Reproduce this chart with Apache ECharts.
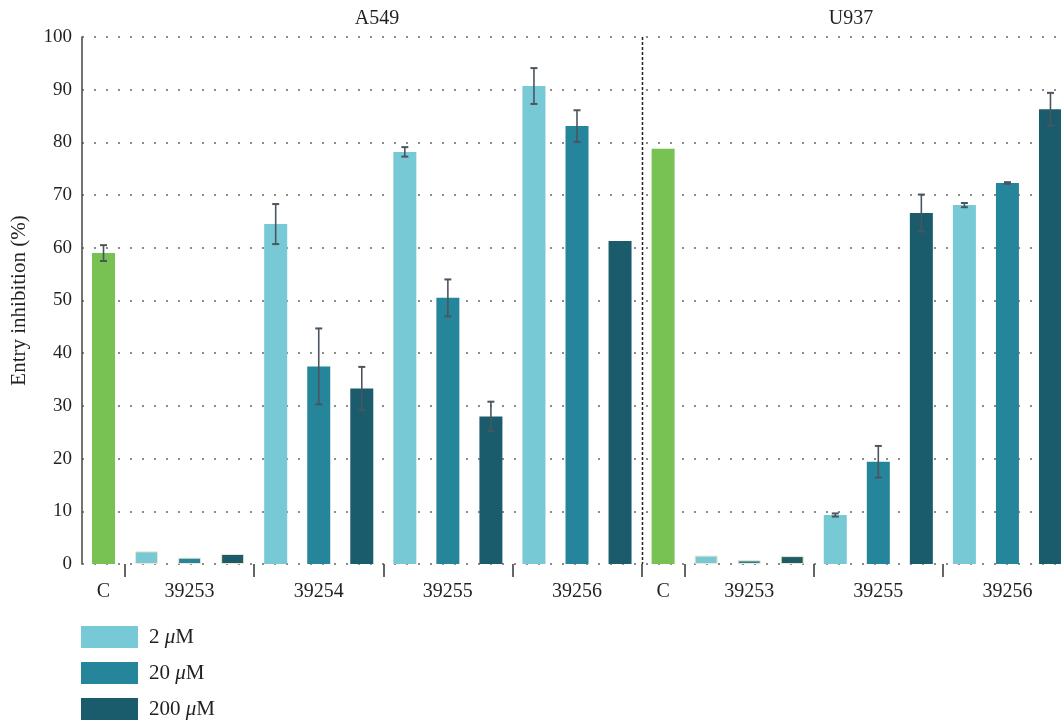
<!DOCTYPE html>
<html>
<head>
<meta charset="utf-8">
<script src="https://cdn.jsdelivr.net/npm/echarts@6/dist/echarts.min.js"></script>
<style>
  html, body { margin: 0; padding: 0; background: #fff; }
  #chart { width: 1061px; height: 726px; }
</style>
</head>
<body>
<div id="chart"></div>
<script>
// Entry inhibition (%) per cell line, compound and concentration
const panels = ['A549', 'U937'];
const concLabels = ['2 μM', '20 μM', '200 μM'];
const controlLabel = 'C';

const a549Compounds = ['39253', '39254', '39255', '39256'];
const a549Control = 59.0;
const a549ControlErr = 1.5;
const a549_2uM = [2.4, 64.5, 78.2, 90.7];
const a549_20uM = [1.2, 37.5, 50.5, 83.1];
const a549_200uM = [1.9, 33.3, 28.0, 61.3];
const a549_2uM_err = [0, 3.8, 0.9, 3.4];
const a549_20uM_err = [0, 7.2, 3.5, 3.0];
const a549_200uM_err = [0, 4.1, 2.8, 0];

const u937Compounds = ['39253', '39255', '39256'];
const u937Control = 78.8;
const u937ControlErr = 0;
const u937_2uM = [1.6, 9.3, 68.1];
const u937_20uM = [0.7, 19.4, 72.3];
const u937_200uM = [1.5, 66.6, 86.3];
const u937_2uM_err = [0, 0.3, 0.4];
const u937_20uM_err = [0, 3.0, 0.15];
const u937_200uM_err = [0, 3.5, 3.1];

const yTicks = [0, 10, 20, 30, 40, 50, 60, 70, 80, 90, 100];

// Build one slot per bar, in drawing order
const slots = [];
function addPanel(panel, control, controlErr, compounds, means, errs) {
  slots.push({ panel, kind: 'control', conc: -1, label: controlLabel, value: control, err: controlErr });
  compounds.forEach((cmp, ci) => {
    for (let k = 0; k < 3; k++) {
      slots.push({ panel, kind: 'cmp', conc: k, label: k === 1 ? cmp : '', value: means[k][ci], err: errs[k][ci] });
    }
  });
}
addPanel(panels[0], a549Control, a549ControlErr, a549Compounds,
  [a549_2uM, a549_20uM, a549_200uM], [a549_2uM_err, a549_20uM_err, a549_200uM_err]);
addPanel(panels[1], u937Control, u937ControlErr, u937Compounds,
  [u937_2uM, u937_20uM, u937_200uM], [u937_2uM_err, u937_20uM_err, u937_200uM_err]);

const catIds = slots.map((s, i) => String(i));
// group boundaries that carry a tick mark
const tickAt = new Set();
slots.forEach((s, i) => {
  if (i > 0 && (s.kind === 'control' || s.conc === 0)) tickAt.add(i);
});
const panelStart = slots.findIndex(s => s.panel === panels[1]);

const colors = ['#77c9d5', '#25859a', '#1a5c6c'];
const green = '#77c252';
const serif = '"Liberation Serif", "DejaVu Serif", serif';
const textColor = '#231f20';

function seriesData(pred) {
  return slots.map(s => {
    if (!pred(s)) return '-';
    const item = { value: s.value };
    if (s.value < 5) item.itemStyle = { borderColor: '#eee6cf', borderWidth: 1 };
    return item;
  });
}

const barSeries = [{
  name: controlLabel,
  type: 'bar',
  barWidth: 23,
  barGap: '-100%',
  itemStyle: { color: green },
  data: seriesData(s => s.kind === 'control'),
  z: 2
}].concat(concLabels.map((name, k) => ({
  name,
  type: 'bar',
  barWidth: 23,
  barGap: '-100%',
  itemStyle: { color: colors[k] },
  data: seriesData(s => s.kind === 'cmp' && s.conc === k),
  z: 2
})));

const errData = [];
slots.forEach((s, i) => { if (s.err > 0) errData.push([i, s.value, s.err]); });

const errorSeries = {
  type: 'custom',
  silent: true,
  z: 5,
  data: errData,
  encode: { x: 0, y: 1 },
  renderItem(params, api) {
    const x = api.value(0), v = api.value(1), e = api.value(2);
    const hi = api.coord([x, v + e]);
    const lo = api.coord([x, v - e]);
    const cap = 3.5;
    const stem = { stroke: '#4a5560', lineWidth: 1.6 };
    const capStyle = { stroke: '#4a5560', lineWidth: 2 };
    return {
      type: 'group',
      children: [
        { type: 'line', shape: { x1: hi[0], y1: hi[1], x2: lo[0], y2: lo[1] }, style: stem },
        { type: 'line', shape: { x1: hi[0] - cap, y1: hi[1], x2: hi[0] + cap, y2: hi[1] }, style: capStyle },
        { type: 'line', shape: { x1: lo[0] - cap, y1: lo[1], x2: lo[0] + cap, y2: lo[1] }, style: capStyle }
      ]
    };
  }
};

const chart = echarts.init(document.getElementById('chart'), null, { renderer: 'canvas' });

chart.setOption({
  animation: false,
  backgroundColor: '#ffffff',
  grid: { left: 82, top: 37, width: 990, height: 527, containLabel: false, outerBoundsMode: 'none' },
  legend: {
    data: concLabels,
    orient: 'vertical',
    left: 81,
    top: 626,
    height: 100,
    padding: 0,
    itemWidth: 57,
    itemHeight: 22,
    itemGap: 14,
    icon: 'rect',
    selectedMode: false,
    formatter: name => {
      const [num, unit] = name.split(' ');
      return '{n|' + num + ' }{i|μ}{n|' + unit.slice(1) + '}';
    },
    textStyle: {
      color: textColor,
      fontFamily: serif,
      fontSize: 21,
      padding: [0, 0, 0, 6],
      rich: {
        n: { fontFamily: serif, fontSize: 21, color: textColor },
        i: { fontFamily: serif, fontSize: 21, color: textColor, fontStyle: 'italic' }
      }
    }
  },
  xAxis: {
    type: 'category',
    data: catIds,
    boundaryGap: true,
    axisLine: { show: false },
    axisTick: {
      show: true,
      length: 13,
      interval: (idx) => tickAt.has(idx),
      lineStyle: { color: '#333', width: 1.5 }
    },
    splitLine: { show: false },
    axisLabel: {
      interval: 0,
      margin: 18,
      fontFamily: serif,
      fontSize: 20,
      color: textColor,
      formatter: (v) => slots[Number(v)].label
    }
  },
  yAxis: {
    type: 'value',
    min: 0,
    max: 100,
    interval: 10,
    name: 'Entry inhibition (%)',
    nameLocation: 'middle',
    nameGap: 52,
    nameRotate: 90,
    nameTextStyle: { fontFamily: serif, fontSize: 21, color: textColor },
    axisLine: { show: true, lineStyle: { color: '#444', width: 1.5 } },
    axisTick: { show: false },
    axisLabel: {
      margin: 10,
      fontFamily: serif,
      fontSize: 19,
      color: textColor,
      formatter: v => (yTicks.indexOf(v) >= 0 ? String(v) : '')
    },
    splitLine: {
      show: true,
      lineStyle: { color: '#8c8c8c', width: 2, type: [2, 10] }
    }
  },
  series: barSeries.concat([errorSeries])
});

// Panel headings above each cell line's bars
const headingX = [377, 851];
const graphics = panels.map((p, i) => ({
  type: 'text',
  x: headingX[i],
  y: 19,
  style: {
    text: p,
    fontFamily: serif,
    fontSize: 20,
    fill: textColor,
    align: 'center',
    verticalAlign: 'middle'
  }
}));
// dotted divider between the two cell lines
const divX = Math.round((chart.convertToPixel({ xAxisIndex: 0 }, panelStart - 1) +
  chart.convertToPixel({ xAxisIndex: 0 }, panelStart)) / 2) + 0.5;
const yTop = chart.convertToPixel({ yAxisIndex: 0 }, 100);
const yBot = chart.convertToPixel({ yAxisIndex: 0 }, 0);
graphics.push({
  type: 'line',
  z: 3,
  shape: { x1: divX, y1: yTop, x2: divX, y2: yBot },
  style: { stroke: '#222', lineWidth: 1.5, lineDash: [3, 2] }
});
chart.setOption({ graphic: graphics });
</script>
</body>
</html>
